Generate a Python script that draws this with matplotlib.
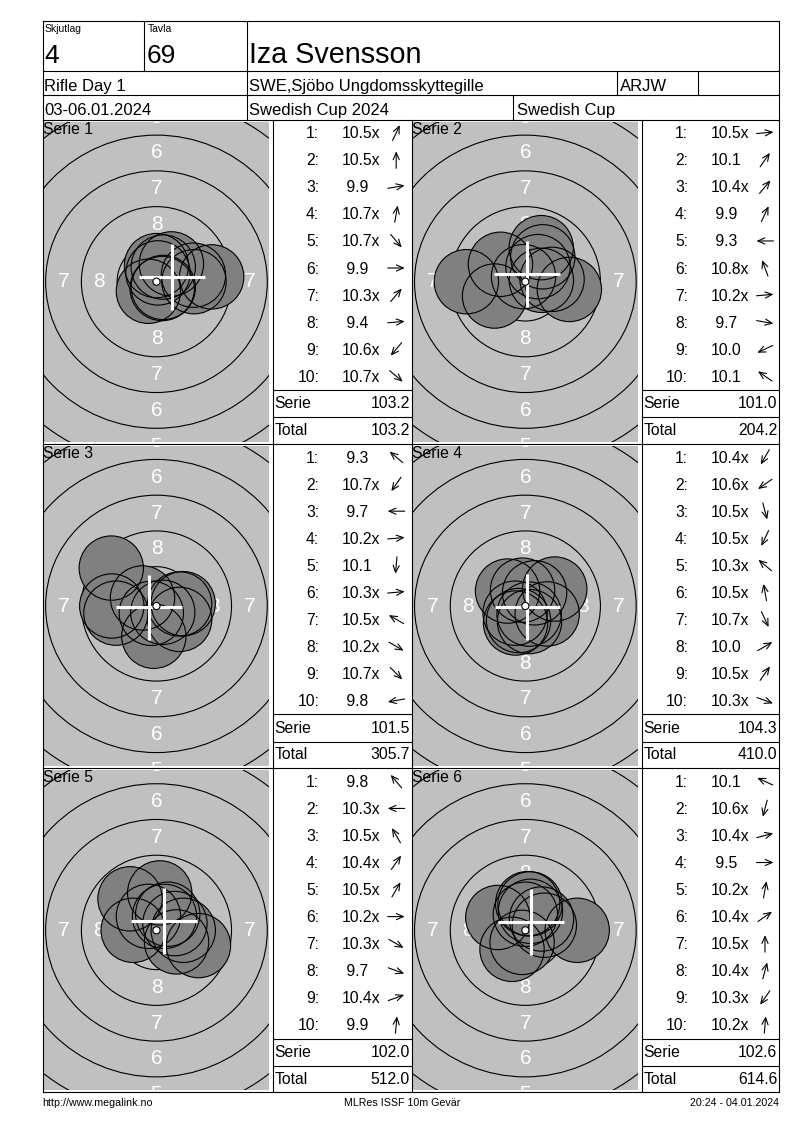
import numpy as np
import matplotlib
matplotlib.use("Agg")
import matplotlib.pyplot as plt
from matplotlib.patches import Circle

plt.rcParams['font.family'] = ['Liberation Sans', 'DejaVu Sans']

# ---- header / footer text ----
relay = "4"
target_no = "69"
shooter = "Iza Svensson"
event = "Rifle Day 1"
club = "SWE,Sjöbo Ungdomsskyttegille"
shooter_class = "ARJW"
dates = "03-06.01.2024"
competition = "Swedish Cup 2024"
cup = "Swedish Cup"
footer_left = "http://www.megalink.no"
footer_mid = "MLRes ISSF 10m Gevär"
footer_right = "20:24 - 04.01.2024"

# ---- shots: decimal score and direction of the arrow (deg, ccw from right) ----
series_names = ["Serie 1", "Serie 2", "Serie 3", "Serie 4", "Serie 5", "Serie 6"]
scores_1 = [10.5, 10.5, 9.9, 10.7, 10.7, 9.9, 10.3, 9.4, 10.6, 10.7]
angles_1 = [65, 90, 10, 80, -50, 0, 50, 5, -130, -40]
scores_2 = [10.5, 10.1, 10.4, 9.9, 9.3, 10.8, 10.2, 9.7, 10.0, 10.1]
angles_2 = [5, 55, 50, 65, 180, 110, 5, -10, -155, 145]
scores_3 = [9.3, 10.7, 9.7, 10.2, 10.1, 10.3, 10.5, 10.2, 10.7, 9.8]
angles_3 = [140, -125, 180, 5, -95, 5, 150, -30, -45, 190]
scores_4 = [10.4, 10.6, 10.5, 10.5, 10.3, 10.5, 10.7, 10.0, 10.5, 10.3]
angles_4 = [-120, -145, -75, -115, 140, 100, -65, 30, 55, -20]
scores_5 = [9.8, 10.3, 10.5, 10.4, 10.5, 10.2, 10.3, 9.7, 10.4, 9.9]
angles_5 = [130, 180, 120, 55, 60, 0, -30, -20, 20, 85]
scores_6 = [10.1, 10.6, 10.4, 9.5, 10.2, 10.4, 10.5, 10.4, 10.3, 10.2]
angles_6 = [155, -105, 15, 0, 80, 35, 90, 75, -125, 85]

all_scores = [scores_1, scores_2, scores_3, scores_4, scores_5, scores_6]
all_angles = [angles_1, angles_2, angles_3, angles_4, angles_5, angles_6]

# ---- layout (pixels) ----
W, H = 800, 1130
SCALE = 14.3          # px per mm on the target
SHOT_R = 2.25         # 4.5 mm pellet
LEFT, RIGHT = 42.7, 779.3
row_tops = [119.5, 443.8, 768.1]
BOTTOM = 1092.4
col_target = [(42.7, 272.7), (411.7, 641.5)]
col_list = [(272.7, 411.7), (641.5, 779.3)]
LW = 0.8


def px_box(x0, y0, x1, y1):
    return [x0 / W, 1 - y1 / H, (x1 - x0) / W, (y1 - y0) / H]


def shot_xy(scores, angles):
    s = np.array(scores)
    d = np.clip((10.95 - s) * 2.5, 0, None)
    a = np.radians(angles)
    return d * np.cos(a), d * np.sin(a)


def draw_target(fig, box, scores, angles):
    x0, y0, x1, y1 = box
    t = fig.add_axes(px_box(x0, y0, x1, y1))
    hw = (x1 - x0) / 2 / SCALE
    hh = (y1 - y0) / 2 / SCALE
    t.set_xlim(-hw, hw)
    t.set_ylim(-hh, hh)
    t.set_facecolor('#c0c0c0')
    t.set_xticks([])
    t.set_yticks([])
    for sp in t.spines.values():
        sp.set_visible(False)

    for ring in range(1, 10):
        r = 0.25 + 2.5 * (10 - ring)
        t.add_patch(Circle((0, 0), r, fill=False, ec='black', lw=LW, zorder=1))
        if ring <= 8:
            rl = r - 1.25
            for dx, dy in [(0, 1), (0, -1), (1, 0), (-1, 0)]:
                t.text(dx * rl, dy * rl, str(ring), color='white', fontsize=15,
                       ha='center', va='center', clip_on=True, zorder=2)

    xs, ys = shot_xy(scores, angles)
    for x, y in zip(xs, ys):
        t.add_patch(Circle((x, y), SHOT_R, fc='#808080', ec='none', zorder=3))
    for x, y in zip(xs, ys):
        t.add_patch(Circle((x, y), SHOT_R, fill=False, ec='black', lw=LW, zorder=4))

    mx, my = xs.mean(), ys.mean()
    arm = 2.3
    t.plot([mx - arm, mx + arm], [my, my], color='white', lw=2.2,
           solid_capstyle='butt', zorder=5)
    t.plot([mx, mx], [my - arm, my + arm], color='white', lw=2.2,
           solid_capstyle='butt', zorder=5)
    t.add_patch(Circle((0, 0), 0.25, fc='white', ec='black', lw=LW, zorder=6))
    return t


fig = plt.figure(figsize=(W / 100, H / 100), dpi=100)
ax = fig.add_axes([0, 0, 1, 1])
ax.set_xlim(0, W)
ax.set_ylim(H, 0)
ax.axis('off')
ax.set_zorder(10)


def hline(y, x0, x1):
    ax.plot([x0, x1], [y, y], color='black', lw=LW, solid_capstyle='projecting')


def vline(x, y0, y1):
    ax.plot([x, x], [y0, y1], color='black', lw=LW, solid_capstyle='projecting')


# ---- header ----
TOP = 21.3
hline(TOP, LEFT, RIGHT)
hline(70.7, LEFT, RIGHT)
hline(94.7, LEFT, RIGHT)
hline(row_tops[0], LEFT, RIGHT)
vline(LEFT, TOP, BOTTOM)
vline(RIGHT, TOP, BOTTOM)
vline(144.0, TOP, 70.7)
vline(246.7, TOP, row_tops[0])
vline(616.7, 70.7, 94.7)
vline(698.3, 70.7, 94.7)
vline(513.3, 94.7, row_tops[0])

ax.text(44.5, 31.5, "Skjutlag", fontsize=7.5, va='baseline')
ax.text(147.5, 31.5, "Tavla", fontsize=7.5, va='baseline')
ax.text(44.0, 63, relay, fontsize=19, va='baseline')
ax.text(147.0, 63, target_no, fontsize=19, va='baseline')
ax.text(249.3, 63, shooter, fontsize=20.7, va='baseline')
ax.text(44.0, 91.3, event, fontsize=12, va='baseline')
ax.text(249.3, 91.3, club, fontsize=12, va='baseline')
ax.text(619.5, 91.3, shooter_class, fontsize=12, va='baseline')
ax.text(44.0, 114.7, dates, fontsize=12, va='baseline')
ax.text(249.3, 114.7, competition, fontsize=12, va='baseline')
ax.text(516.7, 114.7, cup, fontsize=12, va='baseline')

# ---- series grid ----
for top in row_tops[1:]:
    hline(top, LEFT, RIGHT)
hline(BOTTOM, LEFT, RIGHT)
for xl, xr in col_list:
    vline(xl, row_tops[0], BOTTOM)
vline(col_target[1][0], row_tops[0], BOTTOM)

running = 0.0
for k in range(6):
    row, col = divmod(k, 2)
    top = row_tops[row]
    tx0, tx1 = col_target[col]
    lx0, lx1 = col_list[col]
    scores = all_scores[k]
    angles = all_angles[k]

    draw_target(fig, (tx0 + 1.0, top + 2.2, tx1 - 3.5, top + 322.2), scores, angles)
    ax.text(tx0 + 0.3, top + 14, series_names[k], fontsize=11.3, va='baseline')

    for i, (s, a) in enumerate(zip(scores, angles)):
        yb = top + 18.8 + 27.04 * i
        ax.text(lx0 + 46.5, yb, f"{i + 1}:", fontsize=11.3, ha='right', va='baseline')
        label = f"{s:.1f}" + ("x" if s >= 10.2 else "")
        if s < 10:
            label = " " + label
        ax.text(lx0 + 69.5, yb, label, fontsize=11.3, ha='left', va='baseline')
        cx, cy = lx0 + 123.5, yb - 5.5
        L = 8.5
        ux, uy = np.cos(np.radians(a)), -np.sin(np.radians(a))
        ax.annotate('', xy=(cx + ux * L, cy + uy * L), xytext=(cx - ux * L, cy - uy * L),
                    arrowprops=dict(arrowstyle='->,head_length=0.5,head_width=0.22',
                                    lw=0.8, color='black', shrinkA=0, shrinkB=0,
                                    mutation_scale=10))

    serie_sum = round(sum(scores), 1)
    running = round(running + serie_sum, 1)
    hline(top + 270.5, lx0, lx1)
    hline(top + 297.8, lx0, lx1)
    ax.text(lx0 + 2, top + 289, "Serie", fontsize=11.3, va='baseline')
    ax.text(lx1 - 2, top + 289, f"{serie_sum:.1f}", fontsize=11.3, ha='right', va='baseline')
    ax.text(lx0 + 2, top + 315.5, "Total", fontsize=11.3, va='baseline')
    ax.text(lx1 - 2, top + 315.5, f"{running:.1f}", fontsize=11.3, ha='right', va='baseline')

# ---- footer ----
ax.text(LEFT, 1106.5, footer_left, fontsize=7.7, va='baseline')
ax.text(402, 1106.5, footer_mid, fontsize=7.7, ha='center', va='baseline')
ax.text(RIGHT, 1106.5, footer_right, fontsize=7.7, ha='right', va='baseline')

fig.savefig('out.png', dpi=100, facecolor='white')
